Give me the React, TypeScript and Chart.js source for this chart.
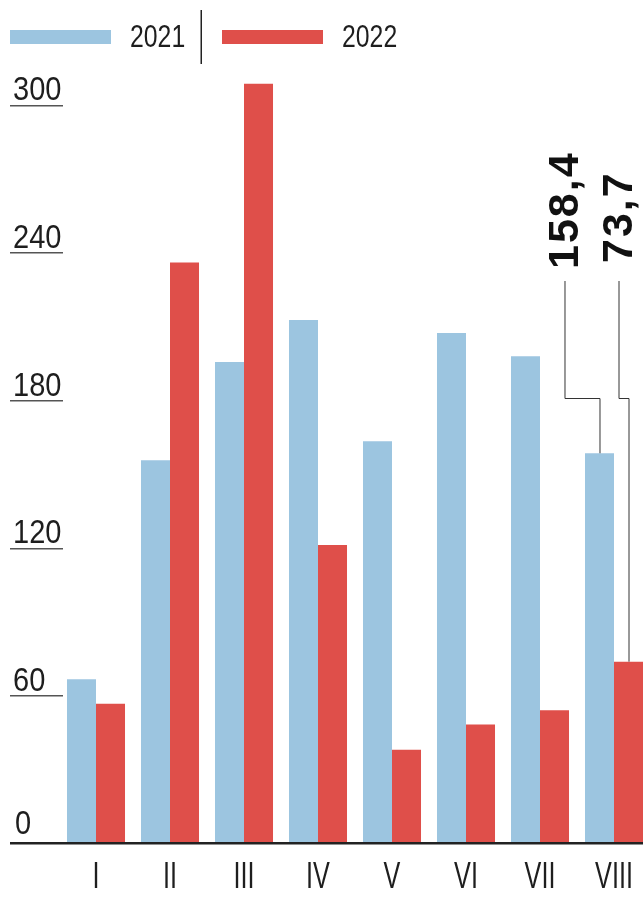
import React, { useEffect, useRef } from 'react';
import { Chart, registerables } from 'chart.js';

Chart.register(...registerables);

const categories = ['I', 'II', 'III', 'IV', 'V', 'VI', 'VII', 'VIII'];
const values2021 = [66.5, 155.6, 195.5, 212.5, 163.3, 207.3, 197.8, 158.4];
const values2022 = [56.6, 235.9, 308.6, 121.1, 37.9, 48.2, 54.0, 73.7];
const yTicks = [0, 60, 120, 180, 240, 300];
const seriesNames = ['2021', '2022'];
const calloutLabels = ['158,4', '73,7'];

const BLUE = '#9cc5e0';
const RED = '#df4f4a';
const INK = '#1e1e1e';
const SANS = '"Liberation Sans", Arial, sans-serif';

function drawText(ctx: CanvasRenderingContext2D, text: string, x: number, y: number, align: CanvasTextAlign, sx: number) {
  ctx.save();
  ctx.translate(x, y);
  ctx.scale(sx, 1);
  ctx.textAlign = align;
  ctx.textBaseline = 'alphabetic';
  ctx.fillText(text, 0, 0);
  ctx.restore();
}

export default function App() {
  const ref = useRef<HTMLCanvasElement>(null);

  useEffect(() => {
    const canvas = ref.current!;
    const deco = {
      id: 'deco',
      afterDraw(chart: any) {
        const ctx = chart.ctx as CanvasRenderingContext2D;
        const y = chart.scales.y;
        const x = chart.scales.x;
        ctx.save();
        // y tick labels with underlines
        ctx.font = `33px ${SANS}`;
        yTicks.forEach((v) => {
          const py = y.getPixelForValue(v);
          if (v > 0) {
            ctx.fillStyle = '#555';
            ctx.fillRect(10, Math.round(py), 53, 1.5);
            ctx.fillStyle = INK;
            drawText(ctx, String(v), 13, py - 4.5, 'left', 0.88);
          } else {
            ctx.fillStyle = INK;
            drawText(ctx, String(v), 15, py - 9.5, 'left', 0.88);
          }
        });
        // baseline axis
        const p0 = y.getPixelForValue(0);
        ctx.fillStyle = '#222';
        ctx.fillRect(10, Math.round(p0) - 1, 650, 2.5);

        // x labels
        ctx.fillStyle = INK;
        ctx.font = `36px ${SANS}`;
        categories.forEach((c, i) => {
          drawText(ctx, c, x.getPixelForTick(i), 888, 'center', 0.7);
        });

        // legend
        ctx.fillStyle = BLUE;
        ctx.fillRect(10, 30, 101, 14);
        ctx.fillStyle = RED;
        ctx.fillRect(222, 30, 101, 14);
        ctx.fillStyle = INK;
        ctx.font = `31px ${SANS}`;
        drawText(ctx, seriesNames[0], 130, 47, 'left', 0.8);
        drawText(ctx, seriesNames[1], 342, 47, 'left', 0.8);
        ctx.fillStyle = '#222';
        ctx.fillRect(200.5, 10, 1.5, 54);

        // callouts for last month
        const m0 = chart.getDatasetMeta(0).data[7];
        const m1 = chart.getDatasetMeta(1).data[7];
        const elbowY = 398;
        const topY = 281;
        ctx.strokeStyle = '#333';
        ctx.lineWidth = 1;
        const lx0 = m0.x - 35;
        const lx1 = m1.x - 10;
        ctx.beginPath();
        ctx.moveTo(lx0 + 0.5, topY);
        ctx.lineTo(lx0 + 0.5, elbowY + 0.5);
        ctx.lineTo(m0.x + 0.5, elbowY + 0.5);
        ctx.lineTo(m0.x + 0.5, m0.y);
        ctx.stroke();
        ctx.beginPath();
        ctx.moveTo(lx1 + 0.5, topY);
        ctx.lineTo(lx1 + 0.5, elbowY + 0.5);
        ctx.lineTo(m1.x + 0.5, elbowY + 0.5);
        ctx.lineTo(m1.x + 0.5, m1.y);
        ctx.stroke();

        ctx.fillStyle = '#111';
        ctx.font = `bold 43px ${SANS}`;
        (ctx as any).letterSpacing = '2px';
        ctx.textBaseline = 'alphabetic';
        ctx.textAlign = 'left';
        ctx.save();
        ctx.translate(lx0 + 14, 269);
        ctx.rotate(-Math.PI / 2);
        ctx.fillText(calloutLabels[0], 0, 0);
        ctx.restore();
        ctx.save();
        ctx.translate(lx1 + 13, 263);
        ctx.rotate(-Math.PI / 2);
        ctx.fillText(calloutLabels[1], 0, 0);
        ctx.restore();
        (ctx as any).letterSpacing = '0px';
        ctx.restore();
      },
    };

    const chart = new Chart(canvas, {
      type: 'bar',
      data: {
        labels: categories,
        datasets: [
          { label: seriesNames[0], data: values2021, backgroundColor: BLUE, borderWidth: 0 },
          { label: seriesNames[1], data: values2022, backgroundColor: RED, borderWidth: 0 },
        ],
      },
      options: {
        animation: false,
        responsive: false,
        devicePixelRatio: 1,
        layout: { padding: { left: 59, right: 9, top: 31, bottom: 54 } },
        plugins: { legend: { display: false }, tooltip: { enabled: false } },
        datasets: { bar: { categoryPercentage: 0.784, barPercentage: 1 } },
        scales: {
          x: {
            grid: { display: false, drawTicks: false },
            border: { display: false },
            ticks: { display: false },
          },
          y: { display: false, min: 0, max: 330 },
        },
      },
      plugins: [deco],
    } as any);
    return () => chart.destroy();
  }, []);

  return (
    <div style={{ position: 'absolute', left: 0, top: 0, width: 643, height: 897, overflow: 'hidden', background: '#fff' }}>
      <canvas ref={ref} width={660} height={897} style={{ display: 'block' }} />
    </div>
  );
}
